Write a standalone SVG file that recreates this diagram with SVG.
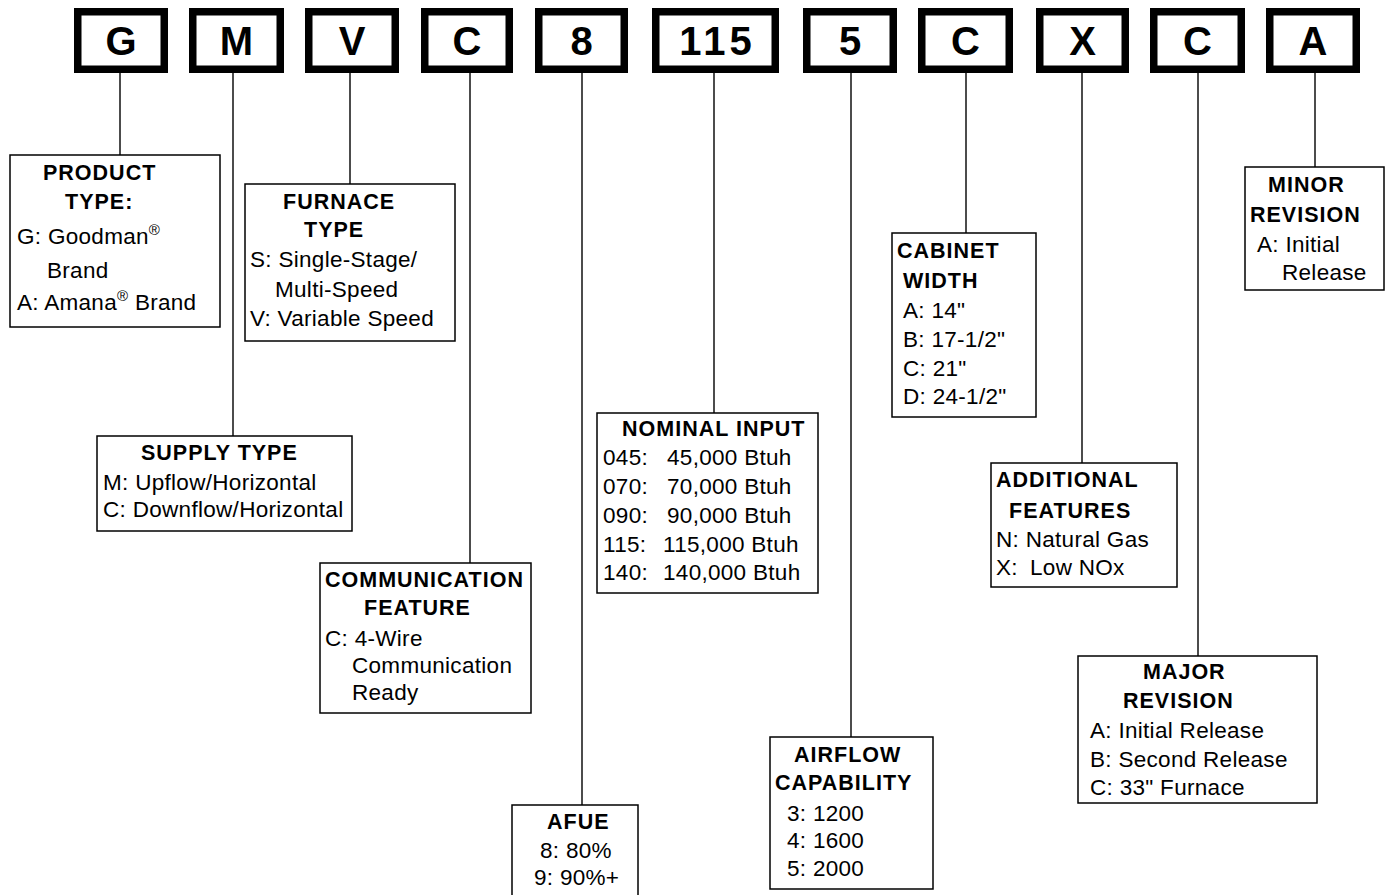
<svg xmlns="http://www.w3.org/2000/svg" width="1387" height="895" viewBox="0 0 1387 895">
<style>
.key rect{fill:#fff;stroke:#000;stroke-width:7.5}
.key text{font-family:"Liberation Sans",Arial,sans-serif;font-weight:bold;font-size:40px;text-anchor:middle;fill:#000}
.box rect{fill:#fff;stroke:#000;stroke-width:1.5}
.box text{font-family:"Liberation Sans",Arial,sans-serif;font-size:22.5px;letter-spacing:0.3px;fill:#000}
.box text.h{font-weight:bold;font-size:21.5px;letter-spacing:1px}
.sup{font-size:15px}
#connectors line{stroke:#111;stroke-width:1.5}
</style>
<rect width="1387" height="895" fill="#fff"/>
<g id="connectors">
<line x1="120" y1="73" x2="120" y2="155"/>
<line x1="233" y1="73" x2="233" y2="436"/>
<line x1="350" y1="73" x2="350" y2="184"/>
<line x1="470" y1="73" x2="470" y2="563"/>
<line x1="582" y1="73" x2="582" y2="805"/>
<line x1="714" y1="73" x2="714" y2="413"/>
<line x1="851" y1="73" x2="851" y2="737"/>
<line x1="966" y1="73" x2="966" y2="233"/>
<line x1="1082" y1="73" x2="1082" y2="463"/>
<line x1="1198" y1="73" x2="1198" y2="656"/>
<line x1="1315" y1="73" x2="1315" y2="167"/>
</g>
<g id="key-G" class="key"><rect x="77.75" y="11.75" width="86.5" height="57.5"/><text x="121" y="55">G</text></g>
<g id="key-M" class="key"><rect x="192.75" y="11.75" width="87.5" height="57.5"/><text x="236.5" y="55">M</text></g>
<g id="key-V" class="key"><rect x="308.75" y="11.75" width="86.5" height="57.5"/><text x="352" y="55">V</text></g>
<g id="key-C1" class="key"><rect x="424.75" y="11.75" width="84.5" height="57.5"/><text x="467" y="55">C</text></g>
<g id="key-8" class="key"><rect x="538.75" y="11.75" width="85.5" height="57.5"/><text x="581.5" y="55">8</text></g>
<g id="key-115" class="key"><rect x="655.75" y="11.75" width="119.5" height="57.5"/><text x="717.5" y="55" letter-spacing="4">115</text></g>
<g id="key-5" class="key"><rect x="806.75" y="11.75" width="86.5" height="57.5"/><text x="850" y="55">5</text></g>
<g id="key-C2" class="key"><rect x="921.75" y="11.75" width="87.5" height="57.5"/><text x="965.5" y="55">C</text></g>
<g id="key-X" class="key"><rect x="1039.75" y="11.75" width="85.5" height="57.5"/><text x="1082.5" y="55">X</text></g>
<g id="key-C3" class="key"><rect x="1153.75" y="11.75" width="87.5" height="57.5"/><text x="1197.5" y="55">C</text></g>
<g id="key-A" class="key"><rect x="1269.75" y="11.75" width="86.5" height="57.5"/><text x="1313" y="55">A</text></g>

<g id="product-type" class="box">
<rect x="10" y="155" width="210" height="172"/>
<text class="h" x="43" y="180">PRODUCT</text>
<text class="h" x="65" y="209">TYPE:</text>
<text x="17" y="244">G: Goodman<tspan class="sup" dy="-9">®</tspan></text>
<text x="47" y="278">Brand</text>
<text x="17" y="310">A: Amana<tspan class="sup" dy="-9">®</tspan><tspan dy="9"> Brand</tspan></text>
</g>
<g id="furnace-type" class="box">
<rect x="245" y="184" width="210" height="157"/>
<text class="h" x="283" y="209">FURNACE</text>
<text class="h" x="304" y="237">TYPE</text>
<text x="250" y="267">S: Single-Stage/</text>
<text x="275" y="297">Multi-Speed</text>
<text x="250" y="326">V: Variable Speed</text>
</g>
<g id="supply-type" class="box">
<rect x="97" y="436" width="255" height="95"/>
<text class="h" x="141" y="460">SUPPLY TYPE</text>
<text x="103" y="490">M: Upflow/Horizontal</text>
<text x="103" y="517">C: Downflow/Horizontal</text>
</g>
<g id="communication-feature" class="box">
<rect x="320" y="563" width="211" height="150"/>
<text class="h" x="325" y="587">COMMUNICATION</text>
<text class="h" x="364" y="615">FEATURE</text>
<text x="325" y="646">C: 4-Wire</text>
<text x="352" y="673">Communication</text>
<text x="352" y="700">Ready</text>
</g>
<g id="nominal-input" class="box">
<rect x="597" y="413" width="221" height="180"/>
<text class="h" x="622" y="436">NOMINAL INPUT</text>
<text x="603" y="465">045:<tspan x="667">45,000 Btuh</tspan></text>
<text x="603" y="494">070:<tspan x="667">70,000 Btuh</tspan></text>
<text x="603" y="523">090:<tspan x="667">90,000 Btuh</tspan></text>
<text x="603" y="552">115:<tspan x="663">115,000 Btuh</tspan></text>
<text x="603" y="580">140:<tspan x="663">140,000 Btuh</tspan></text>
</g>
<g id="afue" class="box">
<rect x="512" y="805" width="126" height="95"/>
<text class="h" x="547" y="829">AFUE</text>
<text x="540" y="858">8: 80%</text>
<text x="534" y="885">9: 90%+</text>
</g>
<g id="airflow-capability" class="box">
<rect x="770" y="737" width="163" height="152"/>
<text class="h" x="794" y="762">AIRFLOW</text>
<text class="h" x="775" y="790">CAPABILITY</text>
<text x="787" y="821">3: 1200</text>
<text x="787" y="848">4: 1600</text>
<text x="787" y="876">5: 2000</text>
</g>
<g id="cabinet-width" class="box">
<rect x="892" y="233" width="144" height="184"/>
<text class="h" x="897" y="258">CABINET</text>
<text class="h" x="903" y="288">WIDTH</text>
<text x="903" y="318">A: 14"</text>
<text x="903" y="347">B: 17-1/2"</text>
<text x="903" y="376">C: 21"</text>
<text x="903" y="404">D: 24-1/2"</text>
</g>
<g id="additional-features" class="box">
<rect x="991" y="463" width="186" height="124"/>
<text class="h" x="996" y="487">ADDITIONAL</text>
<text class="h" x="1009" y="518">FEATURES</text>
<text x="996" y="547">N: Natural Gas</text>
<text x="996" y="575">X:<tspan x="1030">Low NOx</tspan></text>
</g>
<g id="major-revision" class="box">
<rect x="1078" y="656" width="239" height="147"/>
<text class="h" x="1143" y="679">MAJOR</text>
<text class="h" x="1123" y="708">REVISION</text>
<text x="1090" y="738">A: Initial Release</text>
<text x="1090" y="767">B: Second Release</text>
<text x="1090" y="795">C: 33" Furnace</text>
</g>
<g id="minor-revision" class="box">
<rect x="1245" y="167" width="139" height="123"/>
<text class="h" x="1268" y="192">MINOR</text>
<text class="h" x="1250" y="222">REVISION</text>
<text x="1257" y="252">A: Initial</text>
<text x="1282" y="280">Release</text>
</g>
</svg>
